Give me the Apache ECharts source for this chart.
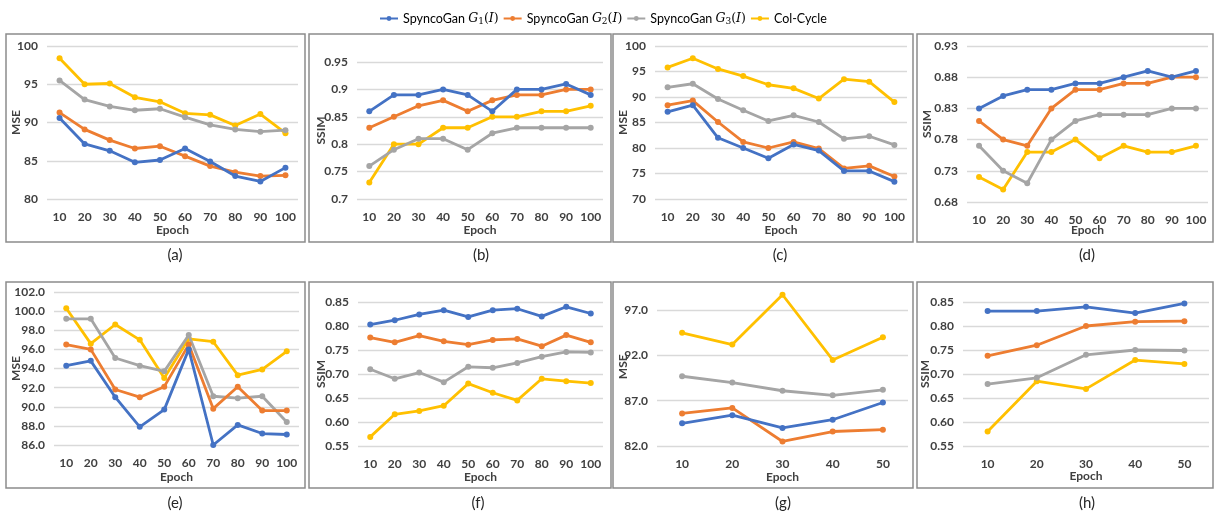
<!DOCTYPE html>
<html>
<head>
<meta charset="utf-8">
<script src="https://cdn.jsdelivr.net/npm/echarts@6/dist/echarts.min.js"></script>
<style>
html,body{margin:0;padding:0;background:#fff;}
#chart{width:1214px;height:515px;}
</style>
</head>
<body>
<div id="chart"></div>
<script>
// ---------------- DATA ----------------
const seriesNames = ['SpyncoGan G1(I)', 'SpyncoGan G2(I)', 'SpyncoGan G3(I)', 'Col-Cycle'];
const epochs10 = ['10','20','30','40','50','60','70','80','90','100'];
const epochs5 = ['10','20','30','40','50'];
const captions = ['(a)','(b)','(c)','(d)','(e)','(f)','(g)','(h)'];
const yNames = ['MSE','SSIM','MSE','SSIM','MSE','SSIM','MSE','SSIM'];

// (a) MSE
const a_g1 = [90.6, 87.2, 86.3, 84.8, 85.1, 86.6, 84.9, 83.0, 82.3, 84.1];
const a_g2 = [91.3, 89.1, 87.7, 86.6, 86.9, 85.6, 84.3, 83.5, 83.0, 83.1];
const a_g3 = [95.5, 93.0, 92.1, 91.6, 91.8, 90.7, 89.7, 89.1, 88.8, 89.0];
const a_col = [98.4, 95.0, 95.1, 93.3, 92.7, 91.2, 91.0, 89.6, 91.1, 88.6];
// (b) SSIM
const b_g1 = [0.86, 0.89, 0.89, 0.90, 0.89, 0.86, 0.90, 0.90, 0.91, 0.89];
const b_g2 = [0.83, 0.85, 0.87, 0.88, 0.86, 0.88, 0.89, 0.89, 0.90, 0.90];
const b_g3 = [0.76, 0.79, 0.81, 0.81, 0.79, 0.82, 0.83, 0.83, 0.83, 0.83];
const b_col = [0.73, 0.80, 0.80, 0.83, 0.83, 0.85, 0.85, 0.86, 0.86, 0.87];
// (c) MSE
const c_g1 = [87.1, 88.4, 82.0, 80.0, 78.0, 80.7, 79.5, 75.5, 75.5, 73.4];
const c_g2 = [88.4, 89.3, 85.1, 81.2, 80.0, 81.2, 79.9, 76.0, 76.5, 74.4];
const c_g3 = [91.9, 92.6, 89.6, 87.4, 85.3, 86.4, 85.1, 81.8, 82.3, 80.6];
const c_col = [95.8, 97.6, 95.5, 94.1, 92.4, 91.7, 89.7, 93.5, 93.0, 89.0];
// (d) SSIM
const d_g1 = [0.83, 0.85, 0.86, 0.86, 0.87, 0.87, 0.88, 0.89, 0.88, 0.89];
const d_g2 = [0.81, 0.78, 0.77, 0.83, 0.86, 0.86, 0.87, 0.87, 0.88, 0.88];
const d_g3 = [0.77, 0.73, 0.71, 0.78, 0.81, 0.82, 0.82, 0.82, 0.83, 0.83];
const d_col = [0.72, 0.70, 0.76, 0.76, 0.78, 0.75, 0.77, 0.76, 0.76, 0.77];
// (e) MSE
const e_g1 = [94.3, 94.8, 91.0, 87.9, 89.7, 96.0, 86.0, 88.1, 87.2, 87.1];
const e_g2 = [96.5, 96.0, 91.8, 91.0, 92.1, 96.5, 89.8, 92.1, 89.6, 89.6];
const e_g3 = [99.2, 99.2, 95.1, 94.3, 93.7, 97.5, 91.1, 90.9, 91.1, 88.4];
const e_col = [100.3, 96.6, 98.6, 97.0, 93.0, 97.1, 96.8, 93.3, 93.9, 95.8];
// (f) SSIM
const f_g1 = [0.803, 0.812, 0.824, 0.833, 0.819, 0.833, 0.836, 0.820, 0.840, 0.826];
const f_g2 = [0.776, 0.766, 0.780, 0.768, 0.761, 0.771, 0.773, 0.758, 0.781, 0.766];
const f_g3 = [0.710, 0.690, 0.703, 0.683, 0.715, 0.713, 0.723, 0.736, 0.746, 0.745];
const f_col = [0.569, 0.616, 0.623, 0.634, 0.680, 0.661, 0.645, 0.690, 0.685, 0.681];
// (g) MSE
const g_g1 = [84.5, 85.4, 84.0, 84.9, 86.8];
const g_g2 = [85.6, 86.2, 82.5, 83.6, 83.8];
const g_g3 = [89.7, 89.0, 88.1, 87.6, 88.2];
const g_col = [94.5, 93.2, 98.7, 91.5, 94.0];
// (h) SSIM
const h_g1 = [0.831, 0.831, 0.840, 0.827, 0.847];
const h_g2 = [0.738, 0.760, 0.800, 0.809, 0.810];
const h_g3 = [0.679, 0.692, 0.740, 0.750, 0.749];
const h_col = [0.580, 0.685, 0.669, 0.729, 0.721];

// ---------------- LAYOUT / STYLE ----------------
const colors = ['#4472C4', '#ED7D31', '#A5A5A5', '#FFC000'];
const FONT = 'Lato';
const panels = [
  {cats: epochs10, data: [a_g1,a_g2,a_g3,a_col], min: 80, max: 100, step: 5, dec: null,
   grid: {left: 47, top: 46, width: 251, height: 153}, xGap: 25, yGap: 25},
  {cats: epochs10, data: [b_g1,b_g2,b_g3,b_col], min: 0.7, max: 0.95, step: 0.05, dec: null,
   grid: {left: 357, top: 62, width: 246, height: 137}, xGap: 25, yGap: 30},
  {cats: epochs10, data: [c_g1,c_g2,c_g3,c_col], min: 70, max: 100, step: 5, dec: null,
   grid: {left: 655, top: 46, width: 252, height: 153}, xGap: 25, yGap: 26},
  {cats: epochs10, data: [d_g1,d_g2,d_g3,d_col], min: 0.68, max: 0.93, step: 0.05, dec: 2,
   grid: {left: 967, top: 46, width: 241, height: 156}, xGap: 22, yGap: 34},
  {cats: epochs10, data: [e_g1,e_g2,e_g3,e_col], min: 86, max: 102, step: 2, dec: 1,
   grid: {left: 54, top: 292, width: 245, height: 153}, xGap: 26, yGap: 32},
  {cats: epochs10, data: [f_g1,f_g2,f_g3,f_col], min: 0.55, max: 0.85, step: 0.05, dec: 2,
   grid: {left: 358, top: 302, width: 245, height: 144}, xGap: 25, yGap: 31},
  {cats: epochs5, data: [g_g1,g_g2,g_g3,g_col], min: 82, max: 99.5, step: 5, dec: 1, hideTop: true,
   grid: {left: 657, top: 287.5, width: 251, height: 158.5}, xGap: 25, yGap: 28},
  {cats: epochs5, data: [h_g1,h_g2,h_g3,h_col], min: 0.55, max: 0.85, step: 0.05, dec: 2,
   grid: {left: 963, top: 302, width: 246, height: 144}, xGap: 24, yGap: 32}
];
const boxes = [
  {x: 6, y: 34, w: 299, h: 208}, {x: 309, y: 34, w: 302, h: 208},
  {x: 613, y: 34, w: 300, h: 208}, {x: 917, y: 34, w: 296, h: 208},
  {x: 6, y: 282, w: 299, h: 206}, {x: 309, y: 282, w: 302, h: 206},
  {x: 613, y: 282, w: 300, h: 206}, {x: 917, y: 282, w: 296, h: 206}
];
const captionPos = [[175,255],[481,255],[780,255],[1087,255],[175,503],[478,503],[783,503],[1087,503]];

const grids = [], xAxes = [], yAxes = [], series = [], graphics = [];
panels.forEach((p, i) => {
  grids.push(Object.assign({containLabel: false}, p.grid));
  xAxes.push({
    type: 'category', gridIndex: i, data: p.cats, boundaryGap: true,
    axisLine: {show: false}, axisTick: {show: false},
    axisLabel: {interval: 0, margin: 12, fontFamily: FONT, fontSize: 12, fontWeight: 'bold', color: '#404040'},
    name: 'Epoch', nameLocation: 'middle', nameGap: p.xGap, nameMoveOverlap: false,
    nameTextStyle: {fontFamily: FONT, fontSize: 12, fontWeight: 'bold', color: '#404040'}
  });
  const nTicks = Math.floor((p.max - p.min) / p.step + 1e-9) + 1;
  const splitColors = [];
  for (let k = 0; k < nTicks; k++) splitColors.push('#D9D9D9');
  if (p.hideTop) splitColors.push('rgba(0,0,0,0)');
  yAxes.push({
    type: 'value', gridIndex: i, min: p.min, max: p.max, interval: p.step,
    axisLine: {show: false}, axisTick: {show: false},
    splitLine: {show: true, lineStyle: {color: splitColors, width: 1.3}},
    axisLabel: {
      margin: 9, fontFamily: FONT, fontSize: 12, fontWeight: 'bold', color: '#404040',
      showMaxLabel: !p.hideTop,
      formatter: v => p.dec === null ? String(+v.toFixed(4)) : (+v).toFixed(p.dec)
    },
    name: yNames[i], nameLocation: 'middle', nameRotate: 90, nameGap: p.yGap, nameMoveOverlap: false,
    nameTextStyle: {fontFamily: FONT, fontSize: 12, fontWeight: 'bold', color: '#404040'}
  });
  p.data.forEach((d, s) => {
    series.push({
      type: 'line', name: seriesNames[s], xAxisIndex: i, yAxisIndex: i, data: d,
      symbol: 'circle', symbolSize: 6, showSymbol: true, animation: false, clip: false,
      lineStyle: {color: colors[s], width: 2.8},
      itemStyle: {color: colors[s]}, z: 2 + (3 - s)
    });
  });
});
boxes.forEach(b => {
  graphics.push({type: 'rect', shape: {x: b.x, y: b.y, width: b.w, height: b.h},
    style: {fill: 'none', stroke: '#8C8C8C', lineWidth: 1.5}, silent: true, z: 0});
});
captions.forEach((c, i) => {
  graphics.push({type: 'text', x: captionPos[i][0], y: captionPos[i][1],
    style: {text: c, fontFamily: FONT, fontSize: 15, fill: '#262626', align: 'center', verticalAlign: 'middle'}});
});

const legendLabels = {
  'SpyncoGan G1(I)': 'SpyncoGan {i|G}{s|1}{m|(}{i|I}{m|)}',
  'SpyncoGan G2(I)': 'SpyncoGan {i|G}{s|2}{m|(}{i|I}{m|)}',
  'SpyncoGan G3(I)': 'SpyncoGan {i|G}{s|3}{m|(}{i|I}{m|)}',
  'Col-Cycle': 'Col-Cycle'
};

const chart = echarts.init(document.getElementById('chart'), null, {renderer: 'canvas'});
chart.setOption({
  backgroundColor: '#fff',
  animation: false,
  color: colors,
  legend: {
    top: 7, left: 374, itemWidth: 18, itemHeight: 6, itemGap: 4,
    data: seriesNames,
    formatter: n => legendLabels[n],
    textStyle: {
      fontFamily: FONT, fontSize: 12.5, color: '#000',
      rich: {
        i: {fontFamily: 'DejaVu Serif', fontStyle: 'italic', fontSize: 12.5, color: '#000'},
        m: {fontFamily: 'DejaVu Serif', fontSize: 12.5, color: '#000'},
        s: {fontFamily: 'DejaVu Serif', fontSize: 9, color: '#000', verticalAlign: 'bottom', padding: [6, 0, 0, 0]}
      }
    }
  },
  grid: grids, xAxis: xAxes, yAxis: yAxes, series: series,
  graphic: graphics
});
</script>
</body>
</html>
